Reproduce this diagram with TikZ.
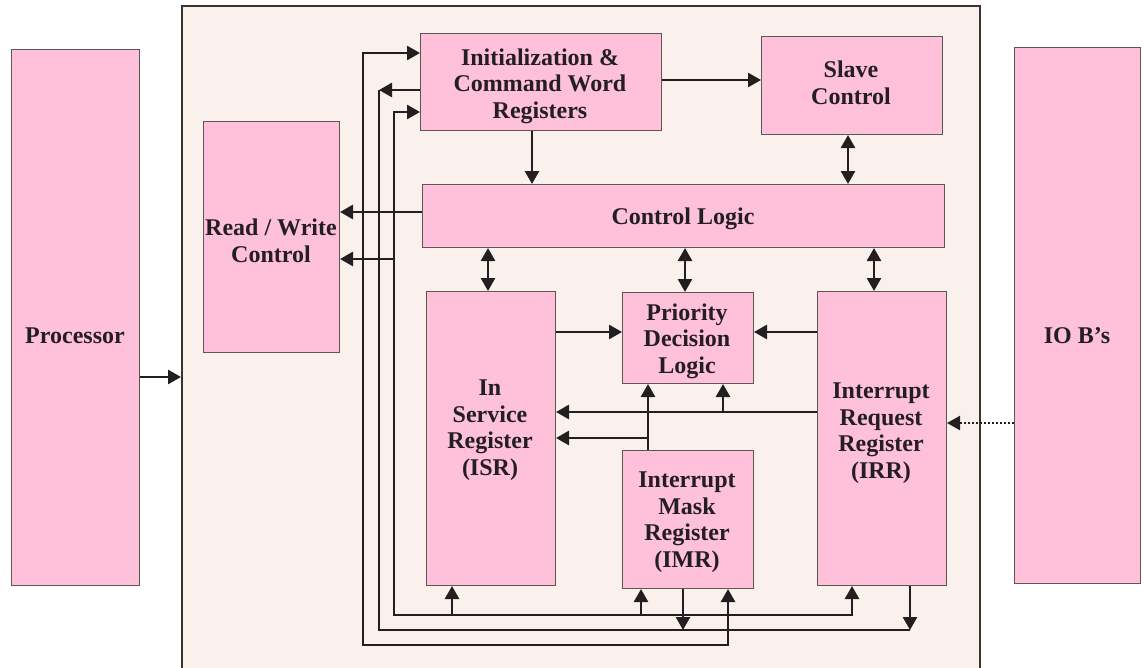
\documentclass[tikz,border=0pt]{standalone}
\usepackage{fontspec}
\setmainfont{Liberation Serif}
\usetikzlibrary{arrows.meta}
\definecolor{pinkfill}{RGB}{255,192,218}
\definecolor{beige}{RGB}{250,241,236}
\definecolor{edge}{RGB}{95,85,85}
\definecolor{edgedark}{RGB}{60,50,50}
\definecolor{ink}{RGB}{35,31,32}
\begin{document}
\begin{tikzpicture}[x=1pt,y=-1pt,
  box/.style={draw=edge, line width=1pt, fill=pinkfill, inner sep=0pt, anchor=north west},
  txt/.style={font=\fontsize{24}{26.5}\selectfont\bfseries, text=ink, align=center, inner sep=0pt},
  wire/.style={line width=2.6pt, draw=ink},
  arr/.style={wire, -{Triangle[length=13pt,width=14pt]}},
  dbl/.style={wire, {Triangle[length=13pt,width=14pt]}-{Triangle[length=13pt,width=14pt]}},
  dotarr/.style={line width=2.2pt, draw=ink, dash pattern=on 2pt off 2pt, -{Triangle[length=13pt,width=14pt]}}
]
\useasboundingbox (0,0) rectangle (1146,667);
\fill[white] (0,0) rectangle (1146,667);
% chip background
\node[draw=edgedark, line width=1.5pt, fill=beige, inner sep=0pt, anchor=north west,
      minimum width=798pt, minimum height=680pt] (chip) at (181,5) {};
% outer boxes
\node[box, minimum width=128pt, minimum height=536pt] (proc) at (11,49) {};
\node[txt] (proct) at (75,336) {Processor};
\node[box, minimum width=126pt, minimum height=536pt] (io) at (1014,47) {};
\node[txt] (iot) at (1077,336) {IO B’s};
% inner boxes
\node[box, minimum width=241pt, minimum height=97pt] (init) at (420,33) {};
\node[txt] (initt) at (540,86) {Initialization \&\\Command Word\\Registers};
\node[box, minimum width=181pt, minimum height=98pt] (slave) at (761,36) {};
\node[txt] (slavet) at (851,83) {Slave\\Control};
\node[box, minimum width=136pt, minimum height=231pt] (rw) at (203,121) {};
\node[txt] (rwt) at (271,241) {Read / Write\\Control};
\node[box, minimum width=522pt, minimum height=63pt] (cl) at (422,184) {};
\node[txt] (clt) at (683,219) {Control Logic};
\node[box, minimum width=129pt, minimum height=294pt] (isr) at (426,291) {};
\node[txt] (isrt) at (490,430) {In\\Service\\Register\\(ISR)};
\node[box, minimum width=131pt, minimum height=91pt] (pdl) at (622,292) {};
\node[txt] (pdlt) at (687,341) {Priority\\Decision\\Logic};
\node[box, minimum width=129pt, minimum height=294pt] (irr) at (817,291) {};
\node[txt] (irrt) at (881,433) {Interrupt\\Request\\Register\\(IRR)};
\node[box, minimum width=131pt, minimum height=138pt] (imr) at (622,450) {};
\node[txt] (imrt) at (687,522) {Interrupt\\Mask\\Register\\(IMR)};
% connectors
\draw[arr] (proc.east |- 0,377) -- (chip.west |- 0,377);
\draw[dotarr] (io.west |- 0,423) -- (irr.east |- 0,423);
\draw[arr] (init.east |- 0,80) -- (slave.west |- 0,80);
\draw[arr] (532,0 |- init.south) -- (532,0 |- cl.north);
\draw[dbl] (848,0 |- slave.south) -- (848,0 |- cl.north);
\draw[arr] (cl.west |- 0,212) -- (rw.east |- 0,212);
\draw[dbl] (488,0 |- cl.south) -- (488,0 |- isr.north);
\draw[dbl] (685,0 |- cl.south) -- (685,0 |- pdl.north);
\draw[dbl] (874,0 |- cl.south) -- (874,0 |- irr.north);
\draw[arr] (isr.east |- 0,332) -- (pdl.west |- 0,332);
\draw[arr] (irr.west |- 0,332) -- (pdl.east |- 0,332);
\draw[arr] (irr.west |- 0,412) -- (isr.east |- 0,412);
\coordinate (j1) at (723,412);
\draw[arr] (j1) -- (723,0 |- pdl.south);
\draw[arr] (648,0 |- imr.north) -- (648,0 |- pdl.south);
\coordinate (j2) at (648,438);
\draw[arr] (j2) -- (isr.east |- j2);
% outer bus
\coordinate (oa) at (363,53);
\coordinate (ob) at (363,645);
\coordinate (oc) at (728,645);
\draw[dbl] (init.west |- oa) -- (oa) -- (ob) -- (oc) -- (oc |- imr.south);
% middle bus
\coordinate (ma) at (379,90);
\coordinate (mb) at (379,630);
\coordinate (mc) at (910,630);
\draw[arr] (init.west |- ma) -- (ma);
\draw[wire] (ma) -- (mb) -- (mc);
\draw[arr] (683,0 |- imr.south) -- (683,630);
\draw[arr] (mc |- irr.south) -- (mc);
% inner bus
\coordinate (ia) at (394,112);
\coordinate (ib) at (394,615);
\coordinate (ic) at (852,615);
\draw[dbl] (init.west |- ia) -- (ia) -- (ib) -- (ic) -- (ic |- irr.south);
\draw[arr] (452,615) -- (452,0 |- isr.south);
\draw[arr] (641,615) -- (641,0 |- imr.south);
\draw[arr] (394,259) -- (rw.east |- 0,259);
\end{tikzpicture}
\end{document}
